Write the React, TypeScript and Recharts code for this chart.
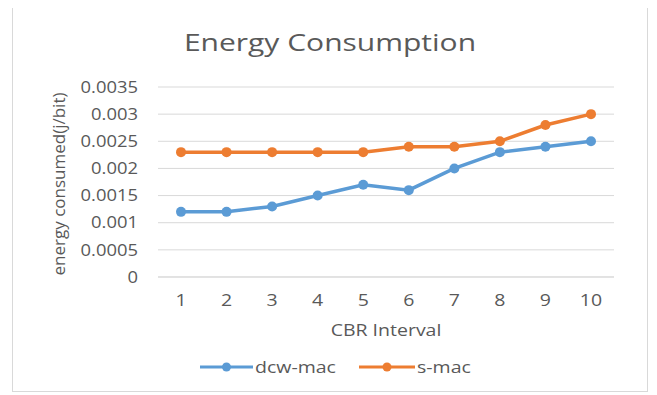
import { LineChart, Line, XAxis, YAxis, CartesianGrid, Legend } from "recharts"

const intervals = ["1", "2", "3", "4", "5", "6", "7", "8", "9", "10"]
const dcwMac = [0.0012, 0.0012, 0.0013, 0.0015, 0.0017, 0.0016, 0.002, 0.0023, 0.0024, 0.0025]
const sMac = [0.0023, 0.0023, 0.0023, 0.0023, 0.0023, 0.0024, 0.0024, 0.0025, 0.0028, 0.003]
const yTicks = [0, 0.0005, 0.001, 0.0015, 0.002, 0.0025, 0.003, 0.0035]

const BLUE = "#5b9bd5"
const ORANGE = "#ed7d31"
const TEXT = "#595959"
const GRID = "#d9d9d9"
const FONT = "'Open Sans', sans-serif"
// the source picture is stretched sideways a little, text follows that
const STRETCH = 1.22

const data = intervals.map((name, i) => ({ name, dcw: dcwMac[i], smac: sMac[i] }))

function XTick({ x, y, payload }: any) {
  return (
    <g transform={`translate(${x},${y})`}>
      <text y={23} dy="0.36em" textAnchor="middle" fill={TEXT} fontSize={16} fontFamily={FONT} transform={`scale(${STRETCH},1)`}>
        {payload.value}
      </text>
    </g>
  )
}

function YTick({ x, y, payload }: any) {
  return (
    <g transform={`translate(${x - 20},${y})`}>
      <text dy="0.36em" textAnchor="end" fill={TEXT} fontSize={16} fontFamily={FONT} transform={`scale(1.15,1)`}>
        {payload.value}
      </text>
    </g>
  )
}

function XTitle({ viewBox }: any) {
  const cx = viewBox.x + viewBox.width / 2
  return (
    <g transform={`translate(${cx},${viewBox.y + 53})`}>
      <text dy="0.36em" textAnchor="middle" fill={TEXT} fontSize={16} fontFamily={FONT} transform={`scale(${STRETCH},1)`}>
        CBR Interval
      </text>
    </g>
  )
}

function YTitle({ viewBox }: any) {
  const cx = viewBox.x + 46
  const cy = viewBox.y + viewBox.height / 2 + 2
  return (
    <text
      x={cx}
      y={cy}
      dy="0.36em"
      textAnchor="middle"
      fill={TEXT}
      fontSize={17}
      fontFamily={FONT}
      transform={`rotate(-90,${cx},${cy})`}
    >
      energy consumed(j/bit)
    </text>
  )
}

function Marker({ color, width }: { color: string; width: number }) {
  return (
    <svg width={width} height={10} style={{ display: "block" }}>
      <line x1={0} y1={5} x2={width} y2={5} stroke={color} strokeWidth={3} />
      <circle cx={width / 2} cy={5} r={4.5} fill={color} />
    </svg>
  )
}

function LegendContent() {
  const label = (text: string, w: number) => (
    <span style={{ display: "inline-block", width: w, whiteSpace: "nowrap" }}>
      <span style={{ display: "inline-block", transform: `scaleX(${STRETCH})`, transformOrigin: "left center" }}>{text}</span>
    </span>
  )
  return (
    <div
      style={{
        display: "flex",
        justifyContent: "center",
        alignItems: "center",
        paddingLeft: 41,
        fontFamily: FONT,
        fontSize: 16,
        color: TEXT,
        height: 30,
      }}
    >
      <Marker color={BLUE} width={53} />
      <div style={{ width: 2 }} />
      {label("dcw-mac", 82)}
      <div style={{ width: 22 }} />
      <Marker color={ORANGE} width={56} />
      <div style={{ width: 2 }} />
      {label("s-mac", 51)}
    </div>
  )
}

export default function App() {
  return (
    <div
      style={{
        position: "relative",
        width: 634,
        height: 385,
        marginLeft: 4,
        marginTop: -3,
        border: `1px solid ${GRID}`,
        background: "#fff",
      }}
    >
      <div
        style={{
          position: "absolute",
          top: 19,
          left: 0,
          width: "100%",
          textAlign: "center",
          fontFamily: FONT,
          fontSize: 24,
          lineHeight: "33px",
          color: TEXT,
          transform: "scaleX(1.25)",
        }}
      >
        Energy Consumption
      </div>
      <LineChart width={634} height={385} data={data} margin={{ top: 81, right: 33, left: 0, bottom: 9 }}>
        <CartesianGrid vertical={false} stroke={GRID} />
        <XAxis
          dataKey="name"
          axisLine={{ stroke: GRID }}
          tickLine={false}
          tickSize={0}
          tickMargin={0}
          height={75}
          padding={{ left: 23, right: 23 }}
          tick={<XTick />}
          label={<XTitle />}
        />
        <YAxis
          domain={[0, 0.0035]}
          ticks={yTicks}
          axisLine={false}
          tickLine={false}
          tickSize={0}
          tickMargin={0}
          width={145}
          tick={<YTick />}
          label={<YTitle />}
        />
        <Legend verticalAlign="bottom" height={30} content={<LegendContent />} />
        <Line
          dataKey="dcw"
          name="dcw-mac"
          stroke={BLUE}
          strokeWidth={3.5}
          dot={{ r: 5, fill: BLUE, stroke: BLUE, strokeWidth: 0 }}
          isAnimationActive={false}
        />
        <Line
          dataKey="smac"
          name="s-mac"
          stroke={ORANGE}
          strokeWidth={3.5}
          dot={{ r: 5, fill: ORANGE, stroke: ORANGE, strokeWidth: 0 }}
          isAnimationActive={false}
        />
      </LineChart>
    </div>
  )
}
